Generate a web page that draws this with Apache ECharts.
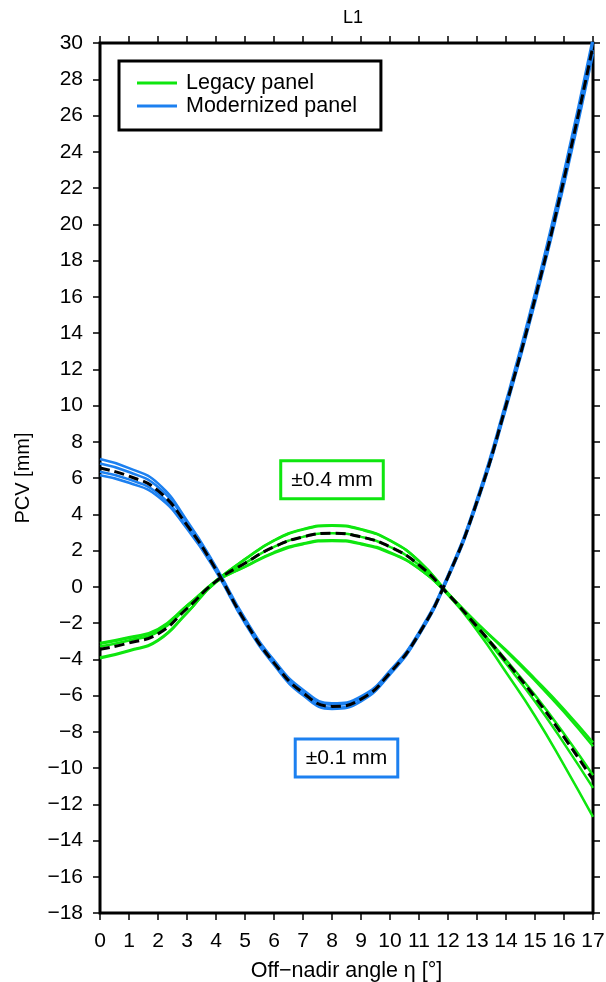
<!DOCTYPE html>
<html>
<head>
<meta charset="utf-8">
<script src="https://cdn.jsdelivr.net/npm/echarts@6/dist/echarts.min.js"></script>
<style>
  html, body { margin: 0; padding: 0; background: #fff; }
  #chart { width: 606px; height: 982px; }
</style>
</head>
<body>
<div id="chart"></div>
<script>
// Off-nadir angle grid (degrees)
const angles = [0, 1, 2, 3, 4, 5, 6, 7, 8, 9, 10, 11, 12, 13, 14, 15, 16, 17];

// L1 phase center variations (mm), legacy panel solutions
const legacyA = [-3.10, -2.79, -2.34, -1.03, 0.34, 1.53, 2.56, 3.18, 3.40, 3.18, 2.56, 1.43, -0.35, -2.00, -3.49, -5.08, -6.76, -8.60];
const legacyB = [-3.15, -2.83, -2.38, -1.05, 0.33, 1.51, 2.54, 3.15, 3.37, 3.15, 2.54, 1.41, -0.40, -2.25, -4.24, -6.33, -8.64, -11.10];
const legacyC = [-3.30, -2.97, -2.49, -1.13, 0.31, 1.30, 2.20, 2.75, 2.95, 2.75, 2.20, 1.20, -0.38, -2.02, -3.55, -5.18, -6.91, -8.80];
const legacyD = [-3.90, -3.51, -2.94, -1.43, 0.26, 1.11, 1.90, 2.39, 2.57, 2.39, 1.90, 1.01, -0.42, -2.18, -4.03, -5.98, -8.11, -10.40];
const legacyE = [-3.95, -3.55, -2.98, -1.45, 0.25, 1.09, 1.86, 2.35, 2.53, 2.35, 1.86, 0.99, -0.45, -2.41, -4.72, -7.13, -9.84, -12.70];
const legacyMean = [-3.45, -3.10, -2.60, -1.20, 0.30, 1.30, 2.20, 2.75, 2.95, 2.75, 2.20, 1.20, -0.40, -2.20, -4.10, -6.10, -8.30, -10.65];

// L1 phase center variations (mm), modernized panel solutions
const modernA = [7.05, 6.55, 5.70, 3.65, 1.10, -1.75, -4.05, -5.68, -6.43, -6.05, -4.63, -2.50, 0.65, 4.85, 10.23, 16.20, 22.90, 30.30];
const modernB = [6.80, 6.33, 5.50, 3.53, 1.03, -1.83, -4.13, -5.76, -6.51, -6.13, -4.69, -2.55, 0.60, 4.78, 10.11, 16.05, 22.70, 30.05];
const modernC = [6.35, 5.92, 5.14, 3.30, 0.89, -1.96, -4.26, -5.92, -6.67, -6.26, -4.80, -2.64, 0.51, 4.64, 9.91, 15.78, 22.34, 29.60];
const modernD = [6.15, 5.74, 4.98, 3.20, 0.83, -2.02, -4.32, -5.99, -6.74, -6.32, -4.85, -2.68, 0.47, 4.58, 9.82, 15.66, 22.18, 29.40];
const modernMean = [6.55, 6.10, 5.30, 3.40, 0.95, -1.90, -4.20, -5.85, -6.60, -6.20, -4.75, -2.60, 0.55, 4.70, 10.00, 15.90, 22.50, 29.85];

const legendNames = ['Legacy panel', 'Modernized panel'];
const spreadLabels = ['±0.4 mm', '±0.1 mm'];
const spreadAnchors = [[8.0, 5.9], [8.5, -9.45]];

const GREEN = '#0ee60e';
const BLUE = '#1c80f0';
const FONT = "'Liberation Sans', Arial, Helvetica, sans-serif";

const minus = v => (v < 0 ? '\u2212' + Math.abs(v) : String(v));
const pairs = arr => angles.map((a, i) => [a, arr[i]]);

function solution(name, arr, color) {
  return {
    type: 'line', name: name, data: pairs(arr), smooth: 0.5,
    symbol: 'none', z: 2,
    lineStyle: { color: color, width: 2.5 },
    itemStyle: { color: color },
    silent: true
  };
}
function meanCurve(arr) {
  return {
    type: 'line', name: 'mean', data: pairs(arr), smooth: 0.5,
    symbol: 'none', z: 5,
    lineStyle: { color: '#000', width: 3, type: [10, 5] },
    silent: true
  };
}

const chart = echarts.init(document.getElementById('chart'));

const tickStyle = { show: true, inside: false, length: 7, lineStyle: { color: '#000', width: 1.5 } };
const hiddenLine = { show: false, onZero: false };

chart.setOption({
  animation: false,
  backgroundColor: '#fff',
  title: {
    text: 'L1', left: 338, top: 4,
    textStyle: { fontFamily: FONT, fontSize: 18, fontWeight: 'normal', color: '#000' }
  },
  grid: {
    left: 100, right: 13, top: 43, bottom: 69,
    outerBoundsMode: 'none', containLabel: false,
    show: true, borderColor: '#000', borderWidth: 3, backgroundColor: 'transparent'
  },
  legend: {
    data: legendNames, orient: 'vertical', left: 119, top: 61,
    icon: 'rect', itemWidth: 40, itemHeight: 3, itemGap: 1,
    padding: [11, 24, 13, 18],
    borderColor: '#000', borderWidth: 3, backgroundColor: '#fff',
    selectedMode: false,
    textStyle: { fontFamily: FONT, fontSize: 21.5, color: '#000', padding: [0, 0, 0, 4] }
  },
  xAxis: [
    {
      type: 'value', position: 'bottom', min: 0, max: 17, interval: 1,
      name: 'Off\u2212nadir angle \u03b7 [°]', nameLocation: 'middle', nameGap: 47,
      nameTextStyle: { fontFamily: FONT, fontSize: 21.5, color: '#000' },
      axisLine: hiddenLine, axisTick: tickStyle, splitLine: { show: false },
      axisLabel: { fontFamily: FONT, fontSize: 21, color: '#000', margin: 18, formatter: minus }
    },
    {
      type: 'value', position: 'top', min: 0, max: 17, interval: 1,
      axisLine: hiddenLine, axisTick: tickStyle, splitLine: { show: false },
      axisLabel: { show: false }
    }
  ],
  yAxis: [
    {
      type: 'value', position: 'left', min: -18, max: 30, interval: 2,
      name: 'PCV [mm]', nameLocation: 'middle', nameGap: 67,
      nameTextStyle: { fontFamily: FONT, fontSize: 20, color: '#000' },
      axisLine: hiddenLine, axisTick: tickStyle, splitLine: { show: false },
      axisLabel: { fontFamily: FONT, fontSize: 21, color: '#000', margin: 17, formatter: minus }
    },
    {
      type: 'value', position: 'right', min: -18, max: 30, interval: 2,
      axisLine: hiddenLine, axisTick: tickStyle, splitLine: { show: false },
      axisLabel: { show: false }
    }
  ],
  series: [
    solution(legendNames[0], legacyA, GREEN),
    solution(legendNames[0], legacyB, GREEN),
    solution(legendNames[0], legacyC, GREEN),
    solution(legendNames[0], legacyD, GREEN),
    solution(legendNames[0], legacyE, GREEN),
    solution(legendNames[1], modernA, BLUE),
    solution(legendNames[1], modernB, BLUE),
    solution(legendNames[1], modernC, BLUE),
    solution(legendNames[1], modernD, BLUE),
    meanCurve(legacyMean),
    meanCurve(modernMean)
  ]
});

// Spread annotations, anchored in data space
const boxColors = [GREEN, BLUE];
chart.setOption({
  graphic: spreadLabels.map((txt, i) => {
    const p = chart.convertToPixel({ xAxisIndex: 0, yAxisIndex: 0 }, spreadAnchors[i]);
    return {
      type: 'text', x: p[0], y: p[1], z: 10,
      style: {
        text: txt, fontFamily: FONT, fontSize: 21, fill: '#000',
        align: 'center', verticalAlign: 'middle',
        backgroundColor: '#fff', borderColor: boxColors[i], borderWidth: 3,
        padding: [7, 9, 7, 9]
      }
    };
  })
});
</script>
</body>
</html>
